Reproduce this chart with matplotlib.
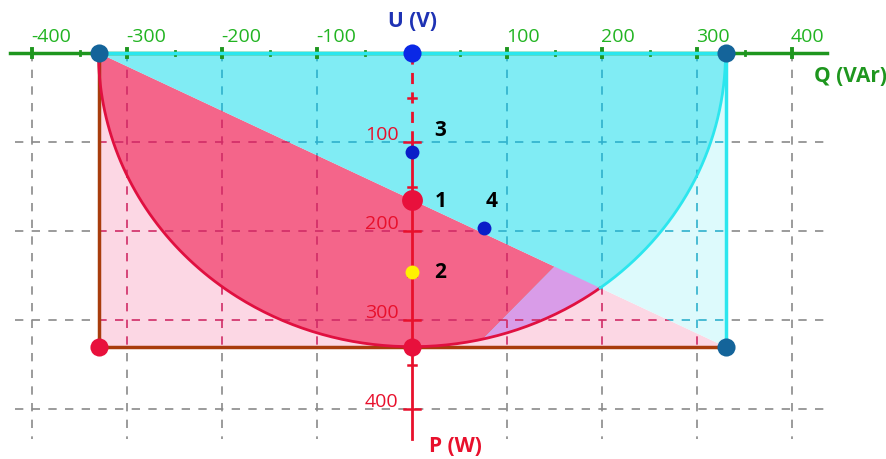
import numpy as np
import matplotlib
matplotlib.use("Agg")
import matplotlib.pyplot as plt
from matplotlib.patches import Polygon

plt.rcParams['font.family'] = ['Open Sans', 'DejaVu Sans']

# ---------------- data ----------------
q_ticks = [-400, -300, -200, -100, 100, 200, 300, 400]
q_labels = ["-400", "-300", "-200", "-100", "100", "200", "300", "400"]
p_ticks = [100, 200, 300, 400]
p_labels = ["100", "200", "300", "400"]
s_max = 330                      # apparent power limit (radius)
q_min, q_max = -330, 330         # rectangle limits
p_max = 330
cut_a = (150, 240)               # point on the diagonal where the overlap starts
cut_b = (75, 321)                # point on the circle where the overlap starts
pts_labels = ["1", "2", "3", "4"]
pts_q = [0, 0, 0, 76]
pts_p = [165, 246, 111, 197]
pts_colors = ["#E8103C", "#FFF200", "#0A1EC8", "#0A1EC8"]
pts_sizes = [15, 10, 10, 10]
lbl_q = [30, 30, 30, 84]
lbl_p = [166, 246, 86, 166]

# ---------------- figure ----------------
W, H = 887, 460
fig = plt.figure(figsize=(W / 100, H / 100), dpi=100)
ax = fig.add_axes([0, 0, 1, 1])
ax.set_xlim(-412 / 0.95, (W - 412) / 0.95)
ax.set_ylim((H - 54) / 0.89, -54 / 0.89)
ax.axis('off')

def arc(t0, t1, n=200):
    t = np.linspace(t0, t1, n)
    return np.column_stack([s_max * np.cos(t), s_max * np.sin(t)])

# diagonal intersection with circle
qd = np.linspace(q_min, q_max, 20001)
pd_ = (qd - q_min) * p_max / (q_max - q_min)
idx = np.argmin(np.abs(qd ** 2 + pd_ ** 2 - s_max ** 2) + (qd < 0) * 1e9)
C = (qd[idx], pd_[idx])
tC = np.arctan2(C[1], C[0])
tB = np.arctan2(cut_b[1], cut_b[0])

pink_xy = [(q_min, 0), (q_min, p_max), (q_max, p_max)]
cyan_xy = [(q_min, 0), (q_max, 0), (q_max, p_max)]

grid_kw = dict(lw=1.2, ls=(0, (5, 5)))
def draw_grid(color, z, clip=None):
    arts = []
    for q in q_ticks:
        arts += ax.plot([q, q], [0, (440 - 54) / 0.89], color=color, zorder=z, **grid_kw)
    for p in p_ticks:
        arts += ax.plot([(15 - 412) / 0.95, (830 - 412) / 0.95], [p, p], color=color, zorder=z, **grid_kw)
    if clip is not None:
        for a in arts:
            a.set_clip_path(clip)

draw_grid("#8A8A8A", 1)

# fills
ax.add_patch(Polygon(pink_xy, closed=True, fc="#FCD7E4", ec="none", zorder=2))
ax.add_patch(Polygon(cyan_xy, closed=True, fc="#DDFAFC", ec="none", zorder=2))

dark_pink = np.vstack([[(q_min, 0)], [C], arc(tC, np.pi)])
ax.add_patch(Polygon(dark_pink, closed=True, fc="#F4658A", ec="none", zorder=3))

cyan_bright = np.vstack([[(q_min, 0)], [cut_a], [cut_b], arc(tB, 0), [(q_max, 0)]])
ax.add_patch(Polygon(cyan_bright, closed=True, fc="#80ECF4", ec="none", zorder=3))

purple = np.vstack([[cut_a], [C], arc(tC, tB), [cut_b]])
ax.add_patch(Polygon(purple, closed=True, fc="#D99CE8", ec="none", zorder=3))

# tinted grid inside the regions
clip_p = Polygon(pink_xy, closed=True, transform=ax.transData)
clip_c = Polygon(cyan_xy, closed=True, transform=ax.transData)
draw_grid("#D02C66", 4, clip_p)
draw_grid("#2FB0CC", 4, clip_c)

# Q axis
green = "#1E961E"
ax.plot([(10 - 412) / 0.95, (827 - 412) / 0.95], [0, 0], color=green, lw=2.5, zorder=5)
for q in range(-400, 401, 50):
    big = q % 100 == 0
    ax.plot([q, q], [-5 if big else -2.5, 5 if big else 2.5], color=green, lw=2.8 if big else 2, zorder=5)
for q, lab in zip(q_ticks, q_labels):
    ax.text(q - 1, -9, lab, color="#22B422", fontsize=14, ha="left", va="bottom", zorder=9)

# boundary lines
ax.plot([q_min, q_max], [0, 0], color="#2CE6EE", lw=2.5, zorder=6)
ax.plot([q_max, q_max], [0, p_max], color="#2CE6EE", lw=2.5, zorder=6)
ax.plot([q_min, q_min], [0, p_max], color="#A83C0C", lw=2.5, zorder=6)
ax.plot([q_min, q_max], [p_max, p_max], color="#A83C0C", lw=2.5, zorder=6)
a_red = arc(tC, np.pi)
a_cy = arc(0, tC)
ax.plot(a_red[:, 0], a_red[:, 1], color="#E01040", lw=2, zorder=6)
ax.plot(a_cy[:, 0], a_cy[:, 1], color="#2CE6EE", lw=2, zorder=6)

# P axis
red = "#E8102C"
ax.plot([0, 0], [0, 100], color=red, lw=2, ls=(0, (4, 3)), zorder=7)
ax.plot([0, 0], [100, (440 - 54) / 0.89], color=red, lw=2, zorder=7)
for p in range(50, 401, 50):
    big = p % 100 == 0
    hw = 8 if big else 4
    ax.plot([-hw, hw], [p, p], color=red, lw=1.8, zorder=7)
for p, lab in zip(p_ticks, p_labels):
    ax.text(-14, p + 1, lab, color=red, fontsize=14, ha="right", va="bottom", zorder=9)

# corner points
ax.scatter([q_min, q_max, q_max], [0, 0, p_max], s=170, color="#14649A", zorder=10, lw=0)
ax.scatter([0], [0], s=170, color="#0A28E6", zorder=10, lw=0)
ax.scatter([q_min, 0], [p_max, p_max], s=170, color="#E8103C", zorder=10, lw=0)

# numbered points
for lab, q, p, c, sz, lq, lp in zip(pts_labels, pts_q, pts_p, pts_colors, pts_sizes, lbl_q, lbl_p):
    ax.scatter([q], [p], s=sz ** 2, color=c, zorder=10, lw=0)
    ax.text(lq, lp, lab, color="black", fontsize=15, fontweight="bold",
            ha="center", va="center", zorder=11)

# axis titles
ax.text(0, -36, "U (V)", color="#1E32B4", fontsize=15, fontweight="bold",
        ha="center", va="center", zorder=11)
ax.text((850 - 412) / 0.95, (77 - 54) / 0.89, "Q (VAr)", color=green, fontsize=15,
        fontweight="bold", ha="center", va="center", zorder=11)
ax.text((455 - 412) / 0.95, (447 - 54) / 0.89, "P (W)", color=red, fontsize=15,
        fontweight="bold", ha="center", va="center", zorder=11)

fig.savefig("out.png", dpi=100)
